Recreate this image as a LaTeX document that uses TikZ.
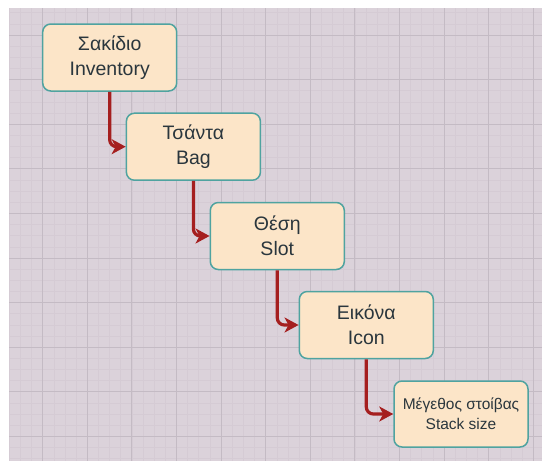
\documentclass[tikz,border=0pt]{standalone}
\usepackage{fontspec}
\setmainfont{Liberation Sans}
\usetikzlibrary{arrows.meta}
\definecolor{bgc}{HTML}{DBD2DA}
\definecolor{minorc}{HTML}{D5CBD4}
\definecolor{majorc}{HTML}{C4BBC4}
\definecolor{boxfill}{HTML}{FCE5C8}
\definecolor{boxline}{HTML}{4FA3A0}
\definecolor{arrc}{HTML}{A51F1F}
\definecolor{txt}{HTML}{2A363D}
\tikzset{
  minorline/.style={draw=minorc, line width=0.7pt},
  majorline/.style={draw=majorc, line width=1pt},
  box/.style={draw=boxline, fill=boxfill, line width=1.5pt, rounded corners=8pt,
    minimum width=134pt, minimum height=67pt, align=center, text=txt,
    font=\fontsize{19.5}{25}\selectfont, inner sep=0pt},
  smallbox/.style={box, minimum height=66pt, font=\fontsize{15.5}{20}\selectfont},
  conn/.style={draw=arrc, line width=3.2pt, rounded corners=7pt,
    -{Stealth[length=14pt, width=15pt, inset=4pt]}}
}
\begin{document}
\begin{tikzpicture}[x=1pt, y=-1pt]
\useasboundingbox (0,0) rectangle (542,461);
\fill[white] (0,0) rectangle (542,461);
\fill[bgc] (9,8) rectangle (542,461);
\begin{scope}
  \clip (9,8) rectangle (542,461);
  \foreach \i in {-3,...,45} {
    \draw[minorline] ({42.7+\i*11.15},8) -- ({42.7+\i*11.15},461);
  }
  \foreach \i in {-3,...,41} {
    \draw[minorline] (9,{35+\i*11.15}) -- (542,{35+\i*11.15});
  }
  \foreach \i in {-1,...,11} {
    \draw[majorline] ({42.7+\i*44.6},8) -- ({42.7+\i*44.6},461);
  }
  \foreach \i in {-1,...,10} {
    \draw[majorline] (9,{35+\i*44.6}) -- (542,{35+\i*44.6});
  }
\end{scope}

\node[box] (b1) at (109.7,57.5) {Σακίδιο\\Inventory};
\node[box] (b2) at (193.4,146.7) {Τσάντα\\Bag};
\node[box] (b3) at (277.3,236) {Θέση\\Slot};
\node[box] (b4) at (366.3,325) {Εικόνα\\Icon};
\node[smallbox] (b5) at (461,414) {Μέγεθος στοίβας\\Stack size};

\draw[conn] (b1.south) |- (b2.west);
\draw[conn] (b2.south) |- (b3.west);
\draw[conn] (b3.south) |- (b4.west);
\draw[conn] (b4.south) |- (b5.west);
\end{tikzpicture}
\end{document}
